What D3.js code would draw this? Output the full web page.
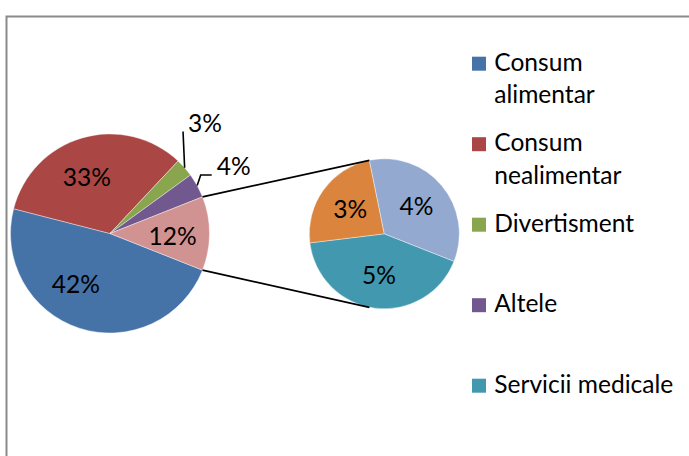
<!DOCTYPE html>
<html>
<head>
<meta charset="utf-8">
<script src="https://cdn.jsdelivr.net/npm/d3@7"></script>
<style>
  body { margin: 0; background: #fff; }
  svg { display: block; }
  text { font-family: Lato, "Open Sans", sans-serif; fill: #000; }
</style>
</head>
<body>
<svg width="689" height="456"></svg>
<script>
'use strict';

// main pie (the last slice is the sum of the secondary pie)
var mainNames = ['Consum alimentar', 'Consum nealimentar', 'Divertisment', 'Altele'];
var mainValues = [48, 33, 3, 4];
var mainLabels = ['42%', '33%', '3%', '4%'];
var otherLabel = '12%';

// secondary pie, clockwise from the bottom-right
var secNames = ['Servicii medicale', 'Serie 6', 'Serie 7'];
var secValues = [5.05, 2.85, 4.1];
var secLabels = ['5%', '3%', '4%'];

var legendNames = ['Consum alimentar', 'Consum nealimentar', 'Divertisment', 'Altele', 'Servicii medicale'];

var mainColors = ['#4572A7', '#AA4643', '#89A54E', '#71588F'],
    otherColor = '#D19392',
    secColors = ['#4198AF', '#DB843D', '#93A9CF'];

var svg = d3.select('svg'),
    width = +svg.attr('width'),
    height = +svg.attr('height');

// chart area border (runs off the right and bottom)
svg.append('rect')
    .attr('x', 6.5)
    .attr('y', 16.5)
    .attr('width', width + 20)
    .attr('height', height + 20)
    .attr('fill', 'none')
    .attr('stroke', '#8a8a8a')
    .attr('stroke-width', 2);

// fit the font size to the legend text width of the original
var probe = svg.append('text').style('font-size', '100px').text('Servicii medicale');
var fontSize = 100 * 179 / probe.node().getComputedTextLength();
probe.remove();

var otherValue = d3.sum(secValues),
    total = d3.sum(mainValues) + otherValue;

var main = {cx: 110, cy: 233.5, r: 99.5},
    sec = {cx: 384.3, cy: 233.8, r: 75};

// main pie: the "other" slice is centred on 3 o'clock
var mainStart = Math.PI / 2 + Math.PI * otherValue / total;
var mainData = mainValues.map(function(v, i) {
    return {value: v, label: mainLabels[i], color: mainColors[i]};
});
mainData.push({value: otherValue, label: otherLabel, color: otherColor});

var pie = d3.pie().sort(null).value(function(d) { return d.value; });
var mainArcs = pie.startAngle(mainStart).endAngle(mainStart + 2 * Math.PI)(mainData);

var arcMain = d3.arc().innerRadius(0).outerRadius(main.r);
var arcMainLabel = d3.arc().innerRadius(main.r * 0.62).outerRadius(main.r * 0.62);

var gMain = svg.append('g').attr('transform', 'translate(' + main.cx + ',' + main.cy + ')');

gMain.selectAll('path')
    .data(mainArcs)
    .enter()
    .append('path')
    .attr('d', arcMain)
    .attr('fill', function(d) { return d.data.color; })
    .attr('stroke', '#fff')
    .attr('stroke-width', 0.4);

// small slices get outside labels with leader lines
var outside = {
    2: {dx: 3.4, dy: -36.2, stub: 0},
    3: {dx: 19.5, dy: -10.6, stub: 11}
};
var nudge = {0: [-15, -8], 1: [-6, 3], 4: [1, 3]};

function edgePoint(angle, r) {
    return [r * Math.sin(angle), -r * Math.cos(angle)];
}

mainArcs.forEach(function(d, i) {
    var o = outside[i];
    if (o) {
        var mid = (d.startAngle + d.endAngle) / 2,
            p = edgePoint(mid, main.r),
            tx = p[0] + o.dx,
            ty = p[1] + o.dy;
        gMain.append('path')
            .attr('d', d3.line()([p, [tx - 5 - o.stub, ty], [tx - 5, ty]]))
            .attr('fill', 'none')
            .attr('stroke', '#000')
            .attr('stroke-width', 1.6);
        gMain.append('text')
            .attr('x', tx)
            .attr('y', ty)
            .style('font-size', fontSize + 'px')
            .text(d.data.label);
    } else {
        var c = arcMainLabel.centroid(d),
            n = nudge[i] || [0, 0];
        gMain.append('text')
            .attr('x', c[0] + n[0])
            .attr('y', c[1] + n[1])
            .attr('dy', '0.35em')
            .attr('text-anchor', 'middle')
            .style('font-size', fontSize + 'px')
            .text(d.data.label);
    }
});

// secondary pie
var topAngle = -0.2,
    lastSpan = 2 * Math.PI * secValues[secValues.length - 1] / otherValue,
    secStart = topAngle + lastSpan;

var secData = secValues.map(function(v, i) {
    return {value: v, label: secLabels[i], name: secNames[i], color: secColors[i]};
});
var secArcs = pie.startAngle(secStart).endAngle(secStart + 2 * Math.PI)(secData);

var arcSec = d3.arc().innerRadius(0).outerRadius(sec.r);
var arcSecLabel = d3.arc().innerRadius(sec.r * 0.56).outerRadius(sec.r * 0.56);

var gSec = svg.append('g').attr('transform', 'translate(' + sec.cx + ',' + sec.cy + ')');

gSec.selectAll('path')
    .data(secArcs)
    .enter()
    .append('path')
    .attr('d', arcSec)
    .attr('fill', function(d) { return d.data.color; })
    .attr('stroke', '#fff')
    .attr('stroke-width', 0.4);

gSec.selectAll('text')
    .data(secArcs)
    .enter()
    .append('text')
    .attr('transform', function(d) { return 'translate(' + arcSecLabel.centroid(d) + ')'; })
    .attr('dy', '0.35em')
    .attr('text-anchor', 'middle')
    .style('font-size', fontSize + 'px')
    .text(function(d) { return d.data.label; });

// connector lines between the "other" slice and the secondary pie
var other = mainArcs[mainArcs.length - 1];
var connectors = [
    [edgePoint(other.startAngle, main.r), edgePoint(topAngle, sec.r)],
    [edgePoint(other.endAngle, main.r), edgePoint(Math.PI - topAngle, sec.r)]
];
svg.selectAll('.connector')
    .data(connectors)
    .enter()
    .append('line')
    .attr('class', 'connector')
    .attr('x1', function(d) { return main.cx + d[0][0]; })
    .attr('y1', function(d) { return main.cy + d[0][1]; })
    .attr('x2', function(d) { return sec.cx + d[1][0]; })
    .attr('y2', function(d) { return sec.cy + d[1][1]; })
    .attr('stroke', '#000')
    .attr('stroke-width', 1.7);

// legend
var legendColors = mainColors.concat([secColors[0]]);
var legend = svg.append('g').attr('class', 'legend');
var legendTop = 70.7, legendStep = 80.5, lineStep = 32.7, maxWidth = 185;

legendNames.forEach(function(name, i) {
    var y = legendTop + i * legendStep;
    legend.append('rect')
        .attr('x', 472)
        .attr('y', y - 14)
        .attr('width', 14)
        .attr('height', 14)
        .attr('fill', legendColors[i]);
    var t = legend.append('text')
        .attr('x', 494.3)
        .attr('y', y)
        .style('font-size', fontSize + 'px')
        .text(name);
    if (t.node().getComputedTextLength() > maxWidth) {
        var words = name.split(' ');
        t.text(null);
        t.append('tspan').attr('x', 494.3).attr('y', y).text(words[0]);
        t.append('tspan').attr('x', 494.3).attr('y', y + lineStep).text(words.slice(1).join(' '));
    }
});
</script>
</body>
</html>
